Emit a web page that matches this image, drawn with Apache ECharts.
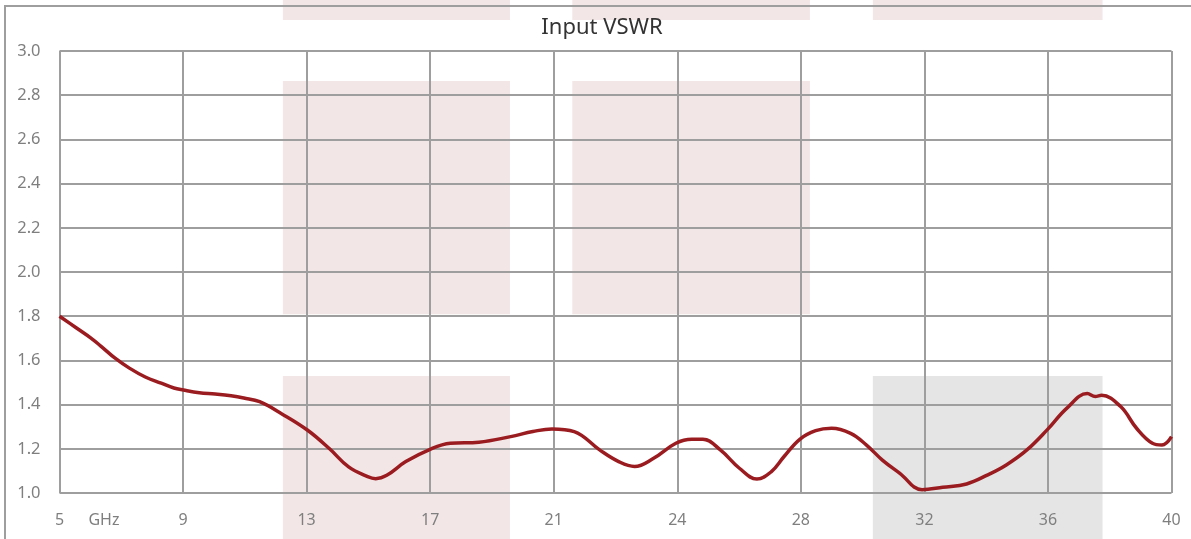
<!DOCTYPE html>
<html>
<head>
  <meta charset="utf-8">
  <title>Input VSWR</title>
  <script src="https://cdn.jsdelivr.net/npm/echarts@6/dist/echarts.min.js"></script>
  <style>
    html, body { margin: 0; padding: 0; background: #fff; }
    #chart { width: 1191px; height: 539px; }
  </style>
</head>
<body>
  <div id="chart"></div>
  <script>
    // frecuencia (GHz) y VSWR
    const freqGHz = [5.0, 5.5, 6.0, 6.3, 6.75, 7.2, 7.7, 8.2, 8.6, 8.9,
      9.4, 9.9, 10.4, 10.8, 11.3, 12.0, 12.8, 13.5, 14.1,
      14.7, 14.95, 15.3, 15.9, 16.7, 17.3, 18.2, 19.2, 19.9, 20.5,
      21.2, 22.0, 22.6, 23.1, 23.7, 24.4, 24.9, 25.25, 25.8, 26.4,
      26.95, 27.4, 27.8, 28.3, 28.8, 29.3, 29.9, 30.4, 30.9, 31.45,
      32.15, 32.8, 33.55, 34.2, 34.8, 35.45, 36.1, 36.7, 37.35, 37.6,
      37.8, 38.4, 38.9, 39.4, 39.7, 40.0];
    const vswr = [1.80, 1.75, 1.70, 1.665, 1.61, 1.565, 1.525, 1.497, 1.475, 1.466,
      1.454, 1.448, 1.44, 1.43, 1.413, 1.358, 1.285, 1.20, 1.118,
      1.074, 1.065, 1.08, 1.142, 1.20, 1.225, 1.23, 1.255, 1.278, 1.29,
      1.278, 1.195, 1.142, 1.12, 1.157, 1.225, 1.243, 1.243, 1.195, 1.112,
      1.063, 1.096, 1.164, 1.243, 1.282, 1.293, 1.27, 1.217, 1.149, 1.089,
      1.015, 1.026, 1.041, 1.081, 1.127, 1.195, 1.288, 1.383, 1.45, 1.437,
      1.442, 1.391, 1.293, 1.225, 1.217, 1.255];
    // etiquetas del eje x (5..40 GHz en 9 pasos, redondeadas)
    const tickLabels = ['5', '9', '13', '17', '21', '24', '28', '32', '36', '40'];

    const paso = 35 / 9;
    function aPos(f) { return (f - 5) / paso; }

    const rosa = '#f3e6e6';
    const gris = '#e5e5e5';
    // bandas sombreadas: [f1, f2] en GHz, [v arriba, v abajo]
    const bandas = [
      { f: [12.03, 19.18], v: [3.232, 3.14], c: rosa },
      { f: [21.14, 28.62], v: [3.232, 3.14], c: rosa },
      { f: [30.60, 37.83], v: [3.232, 3.14], c: rosa },
      { f: [12.03, 19.18], v: [2.864, 1.809], c: rosa },
      { f: [21.14, 28.62], v: [2.864, 1.809], c: rosa },
      { f: [12.03, 19.18], v: [1.529, 0.7], c: rosa },
      { f: [30.60, 37.83], v: [1.529, 0.7], c: gris }
    ];

    const fuente = 'Noto Sans';
    const colorGrid = '#9e9e9e';
    const myChart = echarts.init(document.getElementById('chart'));

    const option = {
      animation: false,
      backgroundColor: '#fff',
      title: {
        text: 'Input VSWR',
        left: 602,
        top: 17,
        padding: 0,
        textAlign: 'center',
        textStyle: { fontFamily: fuente, fontSize: 22, fontWeight: 'normal', color: '#333' }
      },
      grid: { left: 59.5, right: 19.5, top: 51, bottom: 46 },
      xAxis: {
        type: 'value',
        min: 0,
        max: 9,
        interval: 1,
        axisLine: { show: false },
        axisTick: { show: false },
        splitLine: { show: true, lineStyle: { color: colorGrid, width: 2 } },
        axisLabel: {
          formatter: function (v) { return tickLabels[Math.round(v)]; },
          margin: 19,
          color: '#7f7f7f',
          fontFamily: fuente,
          fontSize: 16,
          showMinLabel: true,
          showMaxLabel: true
        }
      },
      yAxis: {
        type: 'value',
        min: 1,
        max: 3,
        interval: 0.2,
        axisLine: { show: false },
        axisTick: { show: false },
        splitLine: { show: true, lineStyle: { color: colorGrid, width: 2 } },
        axisLabel: {
          formatter: function (v) { return v.toFixed(1); },
          margin: 19,
          color: '#7f7f7f',
          fontFamily: fuente,
          fontSize: 16.5
        }
      },
      series: [
        {
          name: 'VSWR',
          type: 'line',
          showSymbol: false,
          smooth: 0.4,
          clip: false,
          lineStyle: { color: '#9b1c20', width: 3.5 },
          data: freqGHz.map(function (f, i) { return [aPos(f), vswr[i]]; })
        }
      ]
    };
    myChart.setOption(option);

    // rectangulos y marco, puestos con las escalas del grafico
    const elementos = bandas.map(function (b) {
      const p1 = myChart.convertToPixel({ gridIndex: 0 }, [aPos(b.f[0]), b.v[0]]);
      const p2 = myChart.convertToPixel({ gridIndex: 0 }, [aPos(b.f[1]), b.v[1]]);
      return {
        type: 'rect',
        z: -10,
        silent: true,
        shape: { x: p1[0], y: p1[1], width: p2[0] - p1[0], height: p2[1] - p1[1] },
        style: { fill: b.c }
      };
    });
    elementos.push({
      type: 'rect',
      z: -5,
      silent: true,
      shape: { x: 5, y: 6, width: 1300, height: 700 },
      style: { fill: null, stroke: colorGrid, lineWidth: 2 }
    });
    const pGhz = myChart.convertToPixel({ gridIndex: 0 }, [0.36, 1]);
    elementos.push({
      type: 'text',
      silent: true,
      x: pGhz[0],
      y: pGhz[1] + 27,
      style: {
        text: 'GHz',
        fill: '#7f7f7f',
        font: '16px "Noto Sans"',
        textAlign: 'center',
        textVerticalAlign: 'middle'
      }
    });
    myChart.setOption({ graphic: elementos });
  </script>
</body>
</html>
